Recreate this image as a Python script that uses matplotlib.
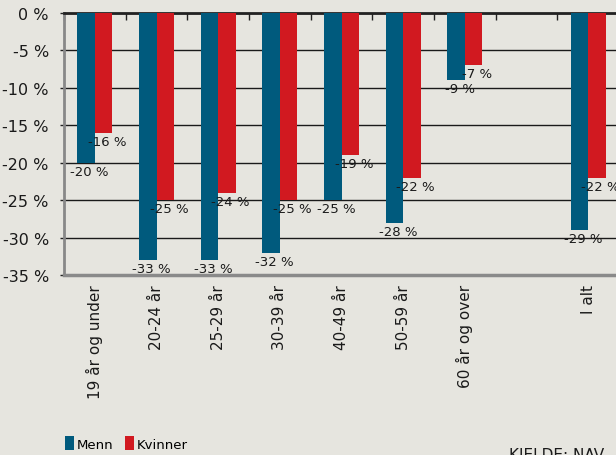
import numpy as np
import matplotlib.pyplot as plt
from matplotlib.patches import Patch

categories = ["19 år og under", "20-24 år", "25-29 år", "30-39 år", "40-49 år",
              "50-59 år", "60 år og over", "", "I alt"]
menn = [-20, -33, -33, -32, -25, -28, -9, None, -29]
kvinner = [-16, -25, -24, -25, -19, -22, -7, None, -22]
yticks = [0, -5, -10, -15, -20, -25, -30, -35]

bg = '#e6e5df'
blue = '#005a7d'
red = '#d11920'

fig = plt.figure(figsize=(6.16, 4.56), dpi=100, facecolor=bg)
ax = fig.add_axes([0.104, 0.3947, 0.901, 0.5746], facecolor=bg)

x = np.arange(len(categories)) + 0.5
w = 0.285
for i, (m, k) in enumerate(zip(menn, kvinner)):
    if m is None:
        continue
    ax.bar(x[i] - w / 2, m, width=w, color=blue, zorder=3)
    ax.bar(x[i] + w / 2, k, width=w, color=red, zorder=3)
    ax.annotate('{} %'.format(m), (x[i] - w / 2, m), xytext=(2.5, -1.5),
                textcoords='offset points', ha='center', va='top',
                fontsize=9.5, color='#1a1a1a', zorder=4)
    ax.annotate('{} %'.format(k), (x[i] + w / 2, k), xytext=(2.5, -1.5),
                textcoords='offset points', ha='center', va='top',
                fontsize=9.5, color='#1a1a1a', zorder=4)

ax.set_xlim(0, len(categories))
ax.set_ylim(-35, 0)

# category boundary ticks hang from the zero line
ax.xaxis.set_ticks_position('top')
ax.set_xticks(np.arange(len(categories) + 1))
ax.set_xticklabels([])
ax.tick_params(axis='x', direction='in', length=5, width=1, color='#222222')
for i, lab in enumerate(categories):
    ax.text(x[i], -36.2, lab, rotation=90, ha='center', va='top',
            fontsize=11, color='#1a1a1a')

ax.set_yticks(yticks)
ax.set_yticklabels(['{} %'.format(v) for v in yticks], fontsize=11.5, color='#1a1a1a')
ax.tick_params(axis='y', length=3, width=1, color='#222222', pad=8)
ax.yaxis.grid(True, color='#1a1a1a', linewidth=1)
ax.set_axisbelow(True)

ax.spines['right'].set_visible(False)
ax.spines['top'].set_color('#222222')
ax.spines['top'].set_linewidth(2)
ax.spines['left'].set_color('#888888')
ax.spines['left'].set_linewidth(2)
ax.spines['bottom'].set_color('#8a8a8a')
ax.spines['bottom'].set_linewidth(2.5)

handles = [Patch(facecolor=blue, label='Menn'), Patch(facecolor=red, label='Kvinner')]
fig.legend(handles=handles, loc='lower left', bbox_to_anchor=(0.092, -0.008),
           ncol=2, frameon=False, handlelength=0.7, handleheight=1.25,
           handletextpad=0.2, columnspacing=0.9, borderaxespad=0.2,
           prop={'family': ['Liberation Sans Narrow', 'DejaVu Sans'], 'size': 9.5})

fig.text(0.826, 0.0175, 'KJELDE: NAV', ha='left', va='top', fontsize=11,
         family=['Liberation Sans Narrow', 'DejaVu Sans'], color='#1a1a1a')

fig.savefig('out.png', dpi=100, facecolor=bg)
